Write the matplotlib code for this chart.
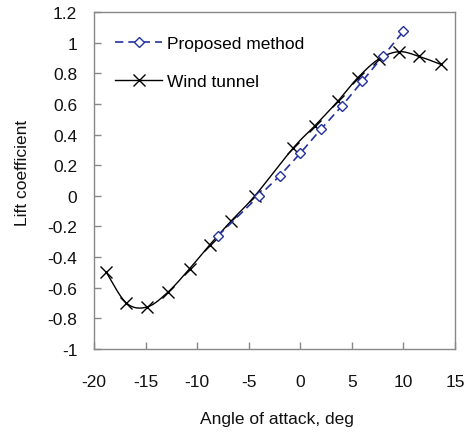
import numpy as np
import matplotlib
matplotlib.use('Agg')
from matplotlib import pyplot as plt

# Values
proposed_aoa = [-8, -4, -2, 0, 2, 4, 6, 8, 10]
proposed_cl = [-0.262, 0.0, 0.13, 0.278, 0.435, 0.584, 0.747, 0.91, 1.074]

tunnel_aoa = [-18.8, -16.86, -14.86, -12.82, -10.72, -8.78, -6.67, -4.4,
              -0.7, 1.41, 3.67, 5.55, 7.61, 9.58, 11.52, 13.63]
tunnel_cl = [-0.50, -0.70, -0.726, -0.628, -0.475, -0.32, -0.162, 0.0,
             0.311, 0.457, 0.62, 0.769, 0.893, 0.941, 0.91, 0.858]

x_ticks = [-20, -15, -10, -5, 0, 5, 10, 15]
y_ticks = [-1, -0.8, -0.6, -0.4, -0.2, 0, 0.2, 0.4, 0.6, 0.8, 1, 1.2]


def smooth_line(x, y, n=30):
    # spreadsheet-style smoothed line (cubic Bezier, Catmull-Rom control points)
    p = np.column_stack((x, y)).astype(float)
    p = np.vstack((p[0], p, p[-1]))
    t = np.linspace(0, 1, n)[:, None]
    out = []
    for i in range(1, len(p) - 2):
        p0, p1, p2, p3 = p[i - 1], p[i], p[i + 1], p[i + 2]
        c1 = p1 + (p2 - p0) / 6
        c2 = p2 - (p3 - p1) / 6
        seg = ((1 - t) ** 3) * p1 + 3 * ((1 - t) ** 2) * t * c1 \
            + 3 * (1 - t) * t ** 2 * c2 + t ** 3 * p2
        out.append(seg)
    out = np.vstack(out)
    return out[:, 0], out[:, 1]


plt.rcParams['font.family'] = ['Liberation Sans', 'DejaVu Sans']
plt.rcParams['font.size'] = 12

fig = plt.figure(figsize=(4.66, 4.35), dpi=100)
ax = fig.add_axes([94 / 466, 85 / 435, 361 / 466, 337 / 435])

blue = '#2432a0'
ax.plot(proposed_aoa, proposed_cl, color=blue, linestyle=(0, (5, 3)), linewidth=1.2,
        marker='D', markersize=5, markerfacecolor='white', markeredgecolor=blue,
        markeredgewidth=1.0, label='Proposed method', zorder=3)

sx, sy = smooth_line(tunnel_aoa, tunnel_cl)
ax.plot(sx, sy, color='black', linewidth=1.0, zorder=2)
ax.plot(tunnel_aoa, tunnel_cl, linestyle='none', marker='x', markersize=8,
        color='black', markeredgewidth=1.0, zorder=2)
# legend proxy for the wind tunnel series
ax.plot([], [], color='black', linewidth=1.0, marker='x', markersize=8,
        markeredgewidth=1.0, label='Wind tunnel')

ax.set_xlim(-20, 15)
ax.set_ylim(-1, 1.2)
ax.set_xticks(x_ticks)
ax.set_yticks(y_ticks)
ax.set_xticklabels([f'{v:g}' for v in x_ticks])
ax.set_yticklabels([f'{v:g}' for v in y_ticks])
ax.tick_params(direction='in', length=5, color='#888888', width=1,
               labelsize=12.5, labelcolor='#111111')
ax.tick_params(axis='y', pad=12)
ax.tick_params(axis='x', pad=18)
for s in ax.spines.values():
    s.set_color('#888888')
    s.set_linewidth(1.0)

fig.text(23 / 466, 1 - 173 / 435, 'Lift coefficient', rotation=90,
         ha='center', va='center', fontsize=12.5, color='#111111')
fig.text(277 / 466, 1 - 420 / 435, 'Angle of attack, deg',
         ha='center', va='center', fontsize=12.5, color='#111111')

ax.legend(loc='upper left', bbox_to_anchor=(0.04, 0.95), frameon=False,
          handlelength=2.7, labelspacing=1.3, handletextpad=0.3,
          borderaxespad=0, fontsize=12.5)

fig.savefig('out.png', dpi=100)
